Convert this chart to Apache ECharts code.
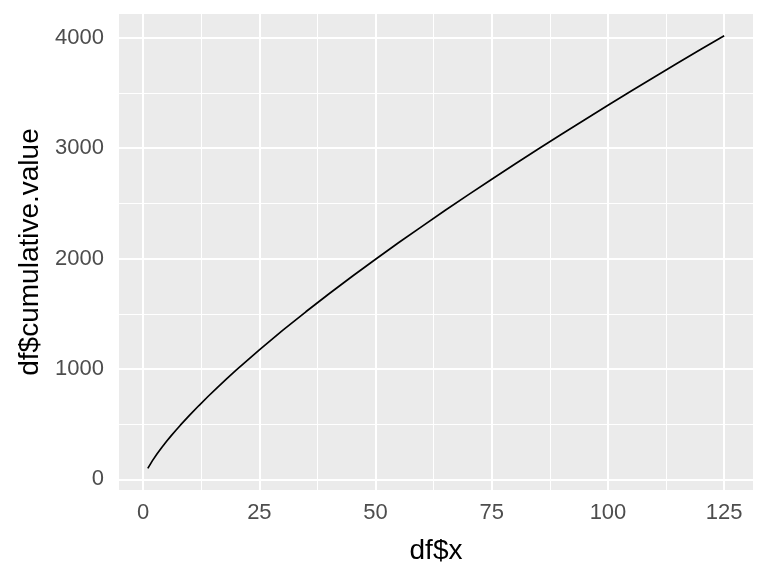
<!DOCTYPE html>
<html>
<head>
<meta charset="utf-8">
<script src="https://cdn.jsdelivr.net/npm/echarts@6/dist/echarts.min.js"></script>
<style>html,body{margin:0;padding:0;background:#fff}#c{width:768px;height:576px}</style>
</head>
<body>
<div id="c"></div>
<script>
// values
const xValues = [1,2,3,4,5,6,7,8,10,12,14,16,18,20,25,30,35,40,45,50,55,60,65,70,75,80,85,90,95,100,105,110,115,120,125];
const cumulativeValues = [100,170,232,289,343,394,443,491,582,669,753,834,913,989,1173,1349,1518,1681,1840,1994,2145,2292,2437,2579,2719,2857,2993,3126,3258,3388,3517,3645,3771,3896,4019];
const xTicks = [0,25,50,75,100,125];
const xMinor = [12.5,37.5,62.5,87.5,112.5];
const yTicks = [0,1000,2000,3000,4000];
const yMinor = [500,1500,2500,3500];
const xLabel = 'df$x';
const yLabel = 'df$cumulative.value';

const xMin = -5.2, xMax = 131.2, yMin = -96, yMax = 4215;

const points = xValues.map((x,i)=>[x,cumulativeValues[i]]);
const gridLines = [];
xTicks.forEach(v=>gridLines.push({xAxis:v, lineStyle:{width:2}}));
xMinor.forEach(v=>gridLines.push({xAxis:v, lineStyle:{width:1}}));
yTicks.forEach(v=>gridLines.push({yAxis:v, lineStyle:{width:2}}));
yMinor.forEach(v=>gridLines.push({yAxis:v, lineStyle:{width:1}}));

const font = 'Liberation Sans, Arial, sans-serif';
const chart = echarts.init(document.getElementById('c'), null, {renderer:'canvas'});
chart.setOption({
  animation:false,
  backgroundColor:'#ffffff',
  grid:{left:119,right:15,top:14,bottom:86,show:true,backgroundColor:'#EBEBEB',borderWidth:0,containLabel:false},
  xAxis:{
    type:'value',min:xMin,max:xMax,
    name:xLabel,nameLocation:'middle',nameGap:47,
    nameTextStyle:{fontFamily:font,fontSize:28,color:'#000'},
    axisLine:{show:false},
    axisTick:{show:true,length:7,customValues:xTicks,lineStyle:{color:'#333333',width:2}},
    axisLabel:{customValues:xTicks,margin:12,fontFamily:font,fontSize:22,color:'#4D4D4D',formatter:v=>String(v)},
    splitLine:{show:false}
  },
  yAxis:{
    type:'value',min:yMin,max:yMax,
    name:yLabel,nameLocation:'middle',nameGap:70,nameRotate:90,
    nameTextStyle:{fontFamily:font,fontSize:28,color:'#000'},
    axisLine:{show:false},
    axisTick:{show:true,length:7,customValues:yTicks,lineStyle:{color:'#333333',width:2}},
    axisLabel:{customValues:yTicks,margin:15,fontFamily:font,fontSize:22,color:'#4D4D4D',formatter:v=>String(v)},
    splitLine:{show:false}
  },
  series:[
    {type:'line',data:[],z:1,silent:true,
     markLine:{z:1,zlevel:0,silent:true,symbol:'none',animation:false,label:{show:false},
       lineStyle:{color:'#FFFFFF',type:'solid'},emphasis:{disabled:true},data:gridLines}},
    {type:'line',data:points,z:10,showSymbol:false,symbol:'none',smooth:false,
     lineStyle:{color:'#000000',width:1.7},silent:true}
  ]
});
</script>
</body>
</html>
